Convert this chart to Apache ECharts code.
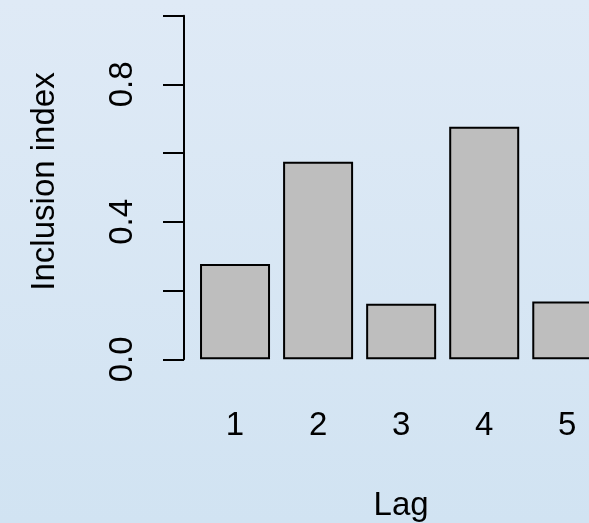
<!DOCTYPE html>
<html>
<head>
<meta charset="utf-8">
<script src="https://cdn.jsdelivr.net/npm/echarts@6/dist/echarts.min.js"></script>
<style>
  html, body { margin: 0; padding: 0; }
  #chart {
    width: 589px; height: 523px;
    background: linear-gradient(to bottom, #dfeaf6 0%, #d1e3f2 100%);
  }
</style>
</head>
<body>
<div id="chart"></div>
<script>
// Lags on the x axis and their inclusion index
const lags = ['1', '2', '3', '4', '5'];
const inclusion = [0.277, 0.575, 0.162, 0.677, 0.168];
// Tick values that carry a printed label (others keep just a tick)
const labelledTicks = [0, 0.4, 0.8];

const FONT = 'Liberation Sans, Arial, Helvetica, sans-serif';

const chart = echarts.init(document.getElementById('chart'), null, { renderer: 'canvas' });

chart.setOption({
  backgroundColor: 'transparent',
  animation: false,
  // the plotting region runs past the right edge of the canvas
  grid: { left: 193.5, right: -19.8, top: 15.7, bottom: 163.7, outerBoundsMode: 'none', containLabel: false },
  xAxis: {
    type: 'category',
    data: lags,
    name: 'Lag',
    nameLocation: 'middle',
    nameGap: 130,
    nameTextStyle: { fontFamily: FONT, fontSize: 33, color: '#000' },
    axisLine: { show: false },
    axisTick: { show: false },
    axisLabel: { margin: 50, fontFamily: FONT, fontSize: 33, color: '#000' }
  },
  yAxis: {
    type: 'value',
    min: 0,
    max: 1,
    interval: 0.2,
    offset: 9.5,
    name: 'Inclusion index',
    nameLocation: 'middle',
    nameGap: 123,
    nameRotate: 90,
    nameTextStyle: { fontFamily: FONT, fontSize: 33, color: '#000', padding: [0, 0, 0, 12] },
    splitLine: { show: false },
    axisLine: { show: true, lineStyle: { color: '#000', width: 2 } },
    axisTick: { show: true, inside: false, length: 21, lineStyle: { color: '#000', width: 2 } },
    axisLabel: {
      rotate: 90,
      margin: 45,
      fontFamily: FONT,
      fontSize: 33,
      color: '#000',
      formatter: function (v) {
        const hit = labelledTicks.some(t => Math.abs(t - v) < 1e-9);
        return hit ? v.toFixed(1) : '';
      }
    }
  },
  series: [{
    type: 'bar',
    data: inclusion,
    barWidth: 70,
    itemStyle: { color: '#bebebe', borderColor: '#000', borderWidth: 2 }
  }]
});
</script>
</body>
</html>
